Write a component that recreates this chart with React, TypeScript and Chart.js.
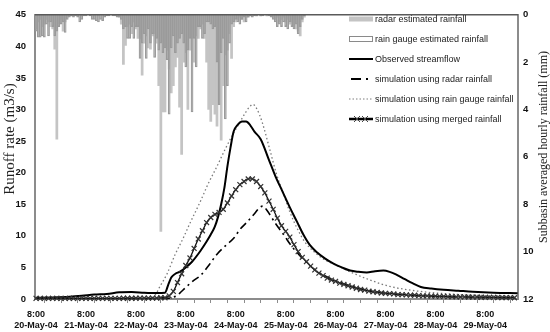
import React, { useEffect, useRef } from 'react';
import { Chart, registerables } from 'chart.js';

Chart.register(...registerables);

// ---------- data ----------
const TIME_LABEL = '8:00';
const DAY_LABELS = [
  '20-May-04', '21-May-04', '22-May-04', '23-May-04', '24-May-04',
  '25-May-04', '26-May-04', '27-May-04', '28-May-04', '29-May-04',
];

// hourly rainfall (mm), starting 20-May-04 8:00
const RADAR_RAIN = [
  0.6, 0.3, 0.2, 0.5, 0.4, 0.2, 0.3, 0.5, 0.6, 1.45,
  5.25, 0.4, 0.2, 0.7, 0.3, 0.1, 0.05, 0.05, 0.05, 0,
  0.05, 0, 0.05, 0, 0, 0, 0, 0, 0.05, 0,
  0.05, 0, 0, 0, 0, 0, 0, 0, 0, 0.05,
  0.1, 0.4, 2.1, 1.3, 0.5, 0.4, 0.8, 0.3, 0.6, 1.0,
  1.0, 2.55, 1.2, 0.9, 1.4, 1.45, 0.9, 0.8, 1.2, 3.0,
  9.15, 4.1, 4.1, 1.5, 2.3, 3.3, 3.0, 2.2, 1.8, 3.9,
  5.9, 2.0, 1.6, 4.0, 1.5, 1.0, 2.0, 0.9, 1.0, 0.6,
  0.4, 1.0, 2.0, 4.0, 4.5, 3.8, 4.2, 4.7, 3.8, 5.3,
  3.0, 1.7, 1.5, 0.8, 1.85, 0.5, 0.3, 0.2, 0.1, 0.2,
  0.3, 0.1, 0.1, 0.05, 0.05, 0, 0.05, 0, 0.05, 0,
  0, 0.05, 0, 0.05, 0.1, 0.2, 0.1, 0.3, 0.2, 0.1,
  0.3, 0.2, 0.4, 0.3, 0.5, 0.6, 0.7, 0.9, 0.3, 0.1,
];
const GAUGE_RAIN = [
  0.7, 0.95, 0.95, 0.9, 0.95, 0.4, 0.9, 0.3, 0.5, 0.9,
  0.7, 0.5, 0.4, 0.3, 0.75, 0.2, 0.1, 0.05, 0.1, 0.05,
  0.1, 0.3, 0.2, 0.05, 0.05, 0, 0.05, 0.2, 0.2, 0.25,
  0.3, 0.2, 0.25, 0.1, 0.05, 0.05, 0, 0.05, 0.05, 0.1,
  0.1, 0.2, 0.6, 0.5, 1.0, 1.0, 0.5, 1.0, 0.5, 0.5,
  1.85, 1.2, 0.8, 1.85, 0.6, 1.2, 0.8, 1.8, 1.0, 1.5,
  1.2, 1.6, 1.4, 1.9, 4.2, 1.4, 0.9, 1.6, 1.2, 1.0,
  0.8, 1.2, 2.2, 1.5, 1.0, 4.1, 1.0, 2.2, 0.5, 0.5,
  1.0, 0.8, 0.3, 0.3, 0.4, 0.6, 0.5, 2.0, 3.8, 1.6,
  1.0, 4.4, 3.0, 1.2, 0.4, 0.3, 0.2, 0.3, 0.4, 0.2,
  0.1, 0.3, 0.1, 0.05, 0.1, 0.05, 0.05, 0, 0.05, 0.05,
  0, 0, 0.05, 0.1, 0.2, 0.3, 0.5, 0.4, 0.5, 0.3,
  0.5, 0.6, 0.3, 0.5, 0.6, 0.4, 0.8, 0.5, 0.2, 0.05,
];

// observed streamflow (m3/s) at hours after 20-May-04 8:00
const OBS_HOURS = [
  0, 8, 16, 22, 28, 34, 40, 46, 52, 58, 62, 63.5, 65, 67, 69, 72, 75, 79, 82, 84,
  86, 87.5, 89, 90.5, 92, 93.5, 95, 97, 99, 101, 103, 105, 108, 112, 115, 118.5, 122, 125.5, 128.5, 131.5,
  135, 139, 143, 147, 151, 155, 159, 163, 167, 170, 173, 177, 181, 185, 190, 196, 203, 210, 220, 231.5,
];
const OBS_FLOW = [
  0.2, 0.25, 0.35, 0.5, 0.7, 0.8, 1.05, 1.1, 1.0, 0.95, 1.0, 2.2, 3.4, 4.0, 4.3, 5.0, 5.9, 7.6, 9.1, 10.2,
  11.5, 13.0, 15.0, 17.5, 21.0, 24.0, 26.5, 27.6, 28.1, 28.1, 27.5, 26.5, 25.3, 22.0, 19.5, 17.0, 14.5, 12.2, 10.2, 8.6,
  7.4, 6.4, 5.6, 5.0, 4.5, 4.3, 4.2, 4.4, 4.5, 4.3, 3.9, 3.2, 2.5, 1.9, 1.65, 1.45, 1.3, 1.15, 1.0, 0.9,
];

// simulation using radar rainfall
const RADAR_SIM_HOURS = [
  0, 60, 65, 68, 69, 72.5, 76, 79, 83, 87, 91, 95, 98, 101.5, 105, 107.5, 109, 111.5,
  115, 119, 123, 127, 131.5, 136.5, 144, 151, 160.5, 175, 194, 231.5,
];
const RADAR_SIM_FLOW = [
  0.05, 0.05, 0.2, 0.6, 0.9, 2.0, 3.0, 3.7, 5.3, 7.1, 8.4, 9.6, 11.0, 12.2, 13.5, 14.5, 14.7, 13.8,
  12.0, 10.2, 8.3, 6.8, 5.3, 4.1, 2.9, 2.1, 1.3, 0.7, 0.4, 0.2,
];

// simulation using rain gauge rainfall
const GAUGE_SIM_HOURS = [
  0, 40, 54, 57, 59.6, 63, 66.8, 70.7, 74, 78.8, 82.7, 87, 90.9, 94.7, 98, 100.5, 102.9, 104.3,
  106.3, 108.7, 112.5, 115.4, 118.8, 122, 125.5, 129.3, 135, 140, 144.7, 151, 160.6, 170, 184.6, 203.8, 231.5,
];
const GAUGE_SIM_FLOW = [
  0.05, 0.05, 0.1, 0.5, 2.0, 4.0, 7.0, 9.6, 12.0, 15.3, 18.2, 21.0, 23.7, 26.1, 28.0, 29.4, 30.5, 30.8,
  30.0, 28.0, 23.5, 20.0, 16.8, 13.8, 11.2, 9.0, 7.1, 6.0, 5.3, 4.3, 3.0, 2.0, 1.2, 0.7, 0.4,
];

// simulation using merged rainfall, every 2 hours from 20-May-04 8:00
const MERGED_STEP_HOURS = 2;
const MERGED_FLOW = [
  0.1, 0.1, 0.1, 0.1, 0.1, 0.1, 0.1, 0.1, 0.1, 0.1, 0.1, 0.1, 0.1, 0.1, 0.1, 0.1, 0.1, 0.1, 0.1, 0.1, 0.1,
  0.12, 0.12, 0.12, 0.12, 0.15, 0.15, 0.15, 0.15, 0.15, 0.2, 0.2,
  0.5, 1.2, 2.6, 4.0, 5.3, 6.5, 8.0, 9.5, 10.8, 12.1, 12.9, 13.4, 13.7, 14.2, 15.2, 16.3, 17.3, 18.1, 18.6, 19.0,
  19.0, 18.6, 17.8, 16.8, 15.5, 14.2, 12.8, 11.6, 10.7, 9.8, 8.6, 7.5, 6.6, 5.9, 5.2, 4.6, 4.1, 3.7, 3.3, 3.0,
  2.8, 2.5, 2.3, 2.1, 1.9, 1.7, 1.5, 1.4, 1.25, 1.15, 1.05, 0.95, 0.9, 0.85, 0.8, 0.7, 0.7, 0.65, 0.6, 0.6,
  0.55, 0.5, 0.5, 0.45, 0.45, 0.4,
  0.4, 0.38, 0.36, 0.35, 0.34, 0.33, 0.32, 0.3, 0.3, 0.28, 0.27, 0.26, 0.25, 0.24, 0.23, 0.22, 0.21, 0.2,
];

const LEGEND_LABELS = [
  'radar estimated rainfall',
  'rain gauge estimated rainfall',
  'Observed streamflow',
  'simulation using radar rainfall',
  'simulation using rain gauge rainfall',
  'simulation using merged rainfall',
];
const LEFT_TITLE = 'Runoff rate (m3/s)';
const RIGHT_TITLE = 'Subbasin averaged hourly rainfall (mm)';

const HOURS_PER_DAY = 24;
const MINOR_TICK_HOURS = 8;
const LAST_HOUR = 231.7;

// ---------- helpers ----------
const pairs = (xs: number[], ys: number[]) => ys.map((y, i) => ({ x: xs[i], y }));
const hourly = (ys: number[], step = 1) => ys.map((y, i) => ({ x: i * step, y }));

const SANS = '"Liberation Sans", Arial, sans-serif';
const SERIF = '"Liberation Serif", "Times New Roman", serif';

function drawCross(ctx: CanvasRenderingContext2D, x: number, y: number, r: number) {
  ctx.beginPath();
  ctx.moveTo(x - r, y - r);
  ctx.lineTo(x + r, y + r);
  ctx.moveTo(x - r, y + r);
  ctx.lineTo(x + r, y - r);
  ctx.stroke();
}

const overlayPlugin = {
  id: 'overlay',
  afterDatasetsDraw(chart: any) {
    const { ctx, chartArea: a } = chart;
    ctx.save();
    // top frame line
    ctx.strokeStyle = '#5a5a5a';
    ctx.lineWidth = 1.5;
    ctx.beginPath();
    ctx.moveTo(a.left, a.top);
    ctx.lineTo(a.right, a.top);
    ctx.stroke();

    // legend
    const bx = 349;
    const bw = 24;
    const tx = 375;
    LEGEND_LABELS.forEach((label, i) => {
      const y = 19 + i * 20;
      ctx.setLineDash([]);
      if (i === 0) {
        ctx.fillStyle = '#c4c4c4';
        ctx.fillRect(bx, y - 2.5, bw, 5);
      } else if (i === 1) {
        ctx.fillStyle = '#ffffff';
        ctx.strokeStyle = '#8a8a8a';
        ctx.lineWidth = 1;
        ctx.fillRect(bx, y - 2.5, bw, 5);
        ctx.strokeRect(bx + 0.5, y - 2.5, bw - 1, 5);
      } else if (i === 2) {
        ctx.strokeStyle = '#000';
        ctx.lineWidth = 2;
        ctx.beginPath();
        ctx.moveTo(bx, y);
        ctx.lineTo(bx + bw, y);
        ctx.stroke();
      } else if (i === 3) {
        ctx.strokeStyle = '#000';
        ctx.lineWidth = 2;
        ctx.beginPath();
        ctx.moveTo(bx + 2, y);
        ctx.lineTo(bx + 12, y);
        ctx.moveTo(bx + 17, y);
        ctx.lineTo(bx + 19, y);
        ctx.stroke();
      } else if (i === 4) {
        ctx.strokeStyle = '#7f7f7f';
        ctx.lineWidth = 1.2;
        ctx.setLineDash([1.5, 2]);
        ctx.beginPath();
        ctx.moveTo(bx, y);
        ctx.lineTo(bx + bw, y);
        ctx.stroke();
        ctx.setLineDash([]);
      } else {
        ctx.strokeStyle = '#000';
        ctx.lineWidth = 2.5;
        ctx.beginPath();
        ctx.moveTo(bx, y);
        ctx.lineTo(bx + bw, y);
        ctx.stroke();
        ctx.strokeStyle = '#444';
        ctx.lineWidth = 1;
        drawCross(ctx, bx + 8, y, 3);
        drawCross(ctx, bx + 16, y, 3);
      }
      ctx.fillStyle = '#222';
      ctx.font = `9px ${SANS}`;
      ctx.textAlign = 'left';
      ctx.textBaseline = 'middle';
      ctx.fillText(label, tx, y + 0.5);
    });
    ctx.restore();
  },
  afterDraw(chart: any) {
    const { ctx } = chart;
    ctx.save();
    ctx.fillStyle = '#222';
    ctx.textAlign = 'center';
    ctx.textBaseline = 'middle';
    ctx.font = `15px ${SERIF}`;
    ctx.translate(10, 139);
    ctx.rotate(-Math.PI / 2);
    ctx.fillText(LEFT_TITLE, 0, 0);
    ctx.restore();

    ctx.save();
    ctx.fillStyle = '#222';
    ctx.textAlign = 'center';
    ctx.textBaseline = 'middle';
    ctx.font = `12px ${SERIF}`;
    ctx.translate(544, 147);
    ctx.rotate(-Math.PI / 2);
    ctx.fillText(RIGHT_TITLE, 0, 0);
    ctx.restore();
  },
};

export default function App() {
  const ref = useRef<HTMLCanvasElement | null>(null);

  useEffect(() => {
    if (!ref.current) return;
    const tickFont = { family: SANS, weight: 'bold' as const, size: 9.5 };
    const chart = new Chart(ref.current, {
      type: 'bar',
      data: {
        datasets: [
          {
            type: 'line',
            label: LEGEND_LABELS[5],
            data: hourly(MERGED_FLOW, MERGED_STEP_HOURS),
            yAxisID: 'y',
            borderColor: '#111',
            borderWidth: 1.3,
            pointStyle: 'crossRot',
            pointRadius: 3.5,
            pointBorderWidth: 1.2,
            pointBorderColor: '#333',
            cubicInterpolationMode: 'monotone',
            clip: false,
            order: 1,
          } as any,
          {
            type: 'line',
            label: LEGEND_LABELS[2],
            data: pairs(OBS_HOURS, OBS_FLOW),
            yAxisID: 'y',
            borderColor: '#000',
            borderWidth: 2,
            pointRadius: 0,
            cubicInterpolationMode: 'monotone',
            order: 2,
          },
          {
            type: 'line',
            label: LEGEND_LABELS[3],
            data: pairs(RADAR_SIM_HOURS, RADAR_SIM_FLOW),
            yAxisID: 'y',
            borderColor: '#000',
            borderWidth: 1.6,
            borderDash: [8, 4, 2, 4],
            pointRadius: 0,
            cubicInterpolationMode: 'monotone',
            order: 3,
          },
          {
            type: 'line',
            label: LEGEND_LABELS[4],
            data: pairs(GAUGE_SIM_HOURS, GAUGE_SIM_FLOW),
            yAxisID: 'y',
            borderColor: '#7a7a7a',
            borderWidth: 1.3,
            borderDash: [1.5, 2.5],
            pointRadius: 0,
            cubicInterpolationMode: 'monotone',
            order: 4,
          },
          {
            type: 'bar',
            label: LEGEND_LABELS[1],
            data: hourly(GAUGE_RAIN),
            yAxisID: 'y2',
            backgroundColor: 'rgba(255,255,255,0)',
            borderColor: '#9a9a9a',
            borderWidth: 0.6,
            grouped: false,
            barPercentage: 1,
            categoryPercentage: 1,
            order: 9,
          } as any,
          {
            type: 'bar',
            label: LEGEND_LABELS[0],
            data: hourly(RADAR_RAIN),
            yAxisID: 'y2',
            backgroundColor: '#c4c4c4',
            borderWidth: 0,
            grouped: false,
            barPercentage: 1,
            categoryPercentage: 1,
            order: 10,
          } as any,
        ],
      },
      options: {
        animation: false,
        responsive: false,
        devicePixelRatio: 1,
        events: [],
        layout: { padding: { top: 8, left: 0, right: 0, bottom: 0 } },
        plugins: { legend: { display: false }, tooltip: { enabled: false } },
        scales: {
          x: {
            type: 'linear',
            min: -0.5,
            max: LAST_HOUR,
            offset: false,
            afterBuildTicks: (s: any) => {
              const t: { value: number }[] = [];
              for (let h = 0; h <= LAST_HOUR; h += MINOR_TICK_HOURS) t.push({ value: h });
              s.ticks = t;
            },
            afterFit: (s: any) => {
              s.height = 33;
            },
            ticks: {
              autoSkip: false,
              maxRotation: 0,
              minRotation: 0,
              padding: 6,
              color: '#111',
              font: { family: SANS, weight: 'bold', size: 9, lineHeight: 1.2 },
              callback: (v: any) => {
                const n = Number(v);
                return n % HOURS_PER_DAY === 0 ? [TIME_LABEL, DAY_LABELS[n / HOURS_PER_DAY]] : '';
              },
            },
            grid: { display: true, drawOnChartArea: false, drawTicks: true, tickLength: 4, color: '#8c8c8c' },
            border: { display: true, color: '#8c8c8c', width: 2 },
          },
          y: {
            type: 'linear',
            position: 'left',
            min: 0,
            max: 45,
            afterFit: (s: any) => {
              s.width = 35;
            },
            ticks: { stepSize: 5, padding: 9, color: '#111', font: tickFont },
            grid: { display: false, drawTicks: false },
            border: { display: true, color: '#8c8c8c', width: 2 },
          },
          y2: {
            type: 'linear',
            position: 'right',
            min: 0,
            max: 12,
            reverse: true,
            afterFit: (s: any) => {
              s.width = 32;
            },
            ticks: { stepSize: 2, padding: 5, color: '#111', font: tickFont },
            grid: { display: false, drawTicks: false },
            border: { display: true, color: '#8c8c8c', width: 2 },
          },
        },
      } as any,
      plugins: [overlayPlugin],
    });
    return () => chart.destroy();
  }, []);

  return (
    <div style={{ position: 'fixed', left: 0, top: 0, width: 550, height: 332, background: '#fff' }}>
      <canvas ref={ref} width={550} height={332} style={{ display: 'block' }} />
    </div>
  );
}
